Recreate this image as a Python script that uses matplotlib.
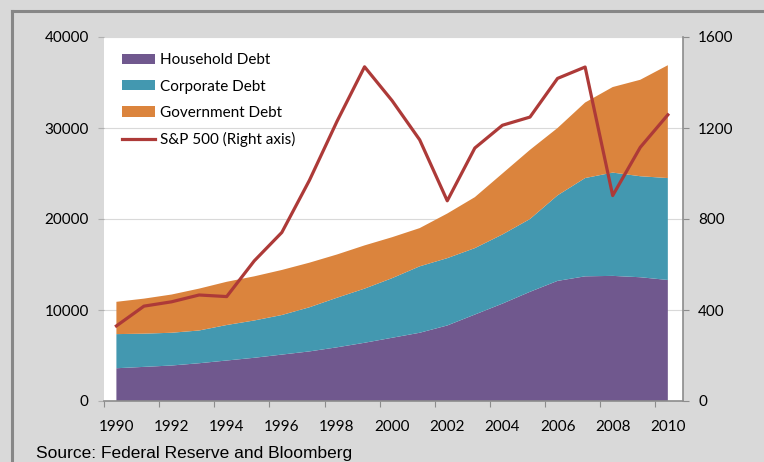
import matplotlib
matplotlib.use("Agg")
from matplotlib import pyplot as plt
from matplotlib.lines import Line2D
import numpy as np

years = list(range(1990, 2011))
household = [3600, 3750, 3900, 4150, 4450, 4750, 5100, 5450, 5900, 6400, 6950,
             7500, 8300, 9500, 10700, 12000, 13200, 13700, 13750, 13600, 13300]
corporate = [3750, 3650, 3600, 3600, 3900, 4100, 4350, 4850, 5450, 5950, 6550,
             7300, 7400, 7300, 7600, 8000, 9400, 10800, 11350, 11100, 11200]
government = [3550, 3850, 4200, 4600, 4750, 4850, 4950, 4900, 4750, 4750, 4500,
              4200, 4900, 5600, 6700, 7600, 7400, 8300, 9400, 10600, 12400]
sp500 = [330, 417, 436, 466, 459, 616, 741, 970, 1229, 1469, 1320,
         1148, 880, 1112, 1212, 1248, 1418, 1468, 903, 1115, 1258]

labels = ['Household Debt', 'Corporate Debt', 'Government Debt', 'S&P 500 (Right axis)']
colors = ['#70588e', '#4398b0', '#db843d']
line_color = '#ad3a38'
bg = '#d9d9d9'
axis_gray = '#8c8c8c'

plt.rcParams['font.family'] = ['Lato', 'DejaVu Sans']
plt.rcParams['font.size'] = 11

# categories are plotted at the middle of each year slot
x = np.array(years) + 0.45

fig = plt.figure(figsize=(7.64, 4.62), dpi=100, facecolor=bg)
ax = fig.add_axes([104 / 764, 1 - 401 / 462, 579 / 764, 364 / 462])
ax.set_facecolor('white')

ax.stackplot(x, household, corporate, government, colors=colors, labels=labels[:3])
ax.set_xlim(1990, 2011)
ax.set_ylim(0, 40000)
ax.set_yticks(range(0, 40001, 10000))
ax.grid(axis='y', color=bg, lw=0.8)
ax.set_axisbelow(True)

ax.set_xticks(range(1990, 2011, 2))
ax.set_xticklabels([])
ax.set_xticks(x[::2], minor=True)
ax.set_xticklabels([str(y) for y in years[::2]], minor=True)
ax.tick_params(axis='x', which='major', length=4, color=axis_gray, direction='out')
ax.tick_params(axis='x', which='minor', length=0, pad=14)
ax.tick_params(axis='y', length=4, color='#b0b0b0', pad=7)

for s in ['top', 'left', 'right']:
    ax.spines[s].set_visible(False)
ax.spines['bottom'].set_color(axis_gray)
ax.spines['bottom'].set_linewidth(1.2)

ax2 = ax.twinx()
ax2.plot(x, sp500, color=line_color, lw=2.3, label=labels[3])
ax2.set_ylim(0, 1600)
ax2.set_yticks(range(0, 1601, 400))
ax2.tick_params(axis='y', length=4, color=axis_gray, pad=7)
for s in ['top', 'left', 'bottom']:
    ax2.spines[s].set_visible(False)
ax2.spines['right'].set_color(axis_gray)
ax2.spines['right'].set_linewidth(1.2)

h1, l1 = ax.get_legend_handles_labels()
h2, l2 = ax2.get_legend_handles_labels()
ax2.legend(h1 + h2, l1 + l2, loc='upper left', bbox_to_anchor=(0.031, 0.955),
           frameon=False, borderpad=0, borderaxespad=0, handlelength=2.15,
           handleheight=0.65, handletextpad=0.35, labelspacing=0.8, fontsize=11)

# outer frame lines
fig.add_artist(Line2D([12 / 764, 12 / 764], [0, 1 - 11 / 462], transform=fig.transFigure,
                      color='#878787', lw=2.2))
fig.add_artist(Line2D([12 / 764, 1], [1 - 11 / 462, 1 - 11 / 462], transform=fig.transFigure,
                      color='#878787', lw=2.2))

fig.text(36 / 764, 4 / 462, 'Source: Federal Reserve and Bloomberg', family='Liberation Sans',
         fontsize=12.5, va='baseline', ha='left')

fig.savefig('out.png', dpi=100, facecolor=bg)
